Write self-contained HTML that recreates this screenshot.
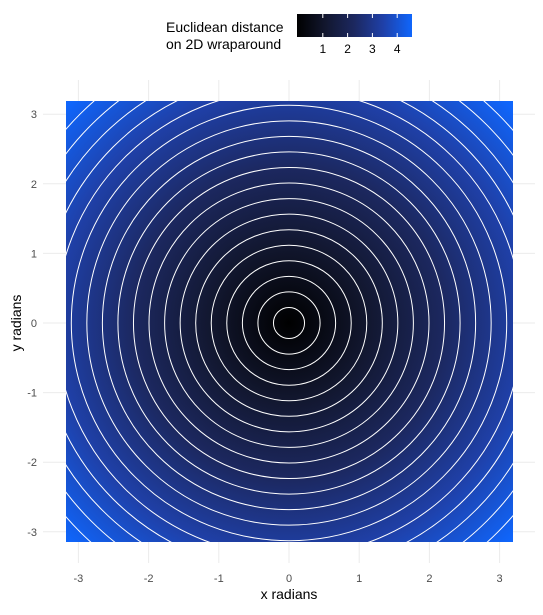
<!DOCTYPE html>
<html><head><meta charset="utf-8"><style>
body{margin:0;background:#fff;font-family:"Liberation Sans",sans-serif;}
</style></head><body>
<svg id="chart" width="543" height="610" xmlns="http://www.w3.org/2000/svg">
<defs>
<linearGradient id="lg" x1="0" x2="1" y1="0" y2="0">
<stop offset="0" stop-color="#000000"/><stop offset="0.25" stop-color="#12172f"/><stop offset="0.5" stop-color="#1c2860"/><stop offset="0.75" stop-color="#1f40a8"/><stop offset="1" stop-color="#0f66fc"/>
</linearGradient>
<radialGradient id="rg" gradientUnits="userSpaceOnUse" cx="289" cy="323" r="311">
<stop offset="0" stop-color="#000000"/><stop offset="0.25" stop-color="#12172f"/><stop offset="0.5" stop-color="#1c2860"/><stop offset="0.75" stop-color="#1f40a8"/><stop offset="1" stop-color="#0f66fc"/>
</radialGradient>
<clipPath id="cp"><rect x="66" y="101" width="447" height="441"/></clipPath>
</defs>
<g id="grid"></g>
<rect x="66" y="101" width="447" height="441" fill="url(#rg)"/>
<g id="contours" clip-path="url(#cp)"></g>
<g id="axes" font-size="11" fill="#4d4d4d"></g>
<text x="289" y="599" font-size="14" text-anchor="middle" fill="#000">x radians</text>
<text transform="translate(21,323) rotate(-90)" font-size="14" text-anchor="middle" fill="#000">y radians</text>
<g>
<text x="166" y="32" font-size="14" fill="#000">Euclidean distance</text>
<text x="166" y="49" font-size="14" fill="#000">on 2D wraparound</text>
<rect x="297" y="14" width="115" height="23" fill="url(#lg)"/>
<g id="legticks"></g>
</g>
</svg>
<script>
const xTicks=[-3,-2,-1,0,1,2,3];
const yTicks=[-3,-2,-1,0,1,2,3];
const legendTicks=[1,2,3,4];
const maxDist=4.443;
const contourLevels=[0.222,0.444,0.666,0.889,1.111,1.333,1.555,1.777,2.0,2.222,2.444,2.666,2.888,3.11,3.332,3.555,3.777,3.999,4.221];
const NS="http://www.w3.org/2000/svg";
const X=v=>289+v*70.2, Y=v=>323-v*69.6, R=v=>v*70, L=v=>298+v*24.8;
document.querySelector('#rg').setAttribute('r',R(maxDist));
function mk(t,a,p){const e=document.createElementNS(NS,t);for(const k in a)e.setAttribute(k,a[k]);p.appendChild(e);return e;}
const g=document.getElementById('grid'),ax=document.getElementById('axes'),ct=document.getElementById('contours'),lt=document.getElementById('legticks');
xTicks.forEach(v=>{const l=mk('line',{x1:X(v),x2:X(v),y1:80,y2:563,stroke:'#ebebeb'},g);

const t=mk('text',{x:X(v),y:582,'text-anchor':'middle'},ax);t.textContent=v;
});
yTicks.forEach(v=>{const l=mk('line',{x1:43,x2:535,y1:Y(v),y2:Y(v),stroke:'#ebebeb'},g);

const t=mk('text',{x:37,y:Y(v)+4,'text-anchor':'end'},ax);t.textContent=v;
});
contourLevels.forEach(v=>{const c=mk('circle',{cx:X(0),cy:Y(0),r:R(v),fill:'none',stroke:'#fff','stroke-width':1},ct);
});
legendTicks.forEach(v=>{mk('line',{x1:L(v),x2:L(v),y1:14,y2:18,stroke:'#fff'},lt);mk('line',{x1:L(v),x2:L(v),y1:33,y2:37,stroke:'#fff'},lt);
const t=mk('text',{x:L(v),y:53,'text-anchor':'middle','font-size':12,fill:'#000'},lt);t.textContent=v;
});
</script>
</body></html>
